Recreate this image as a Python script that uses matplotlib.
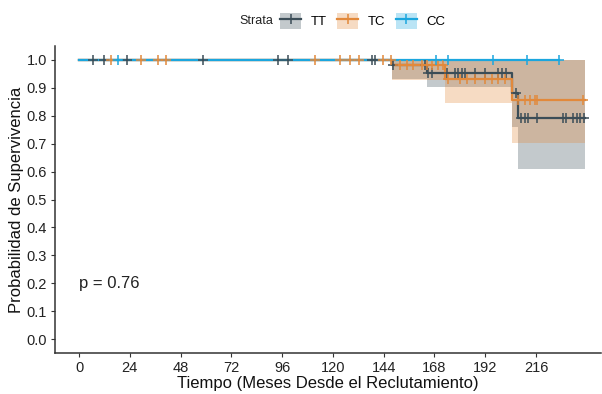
import numpy as np
import matplotlib
matplotlib.use("Agg")
import matplotlib.pyplot as plt
from matplotlib.patches import Patch
from matplotlib.lines import Line2D

plt.rcParams["font.family"] = ["Liberation Sans", "DejaVu Sans"]

# Kaplan-Meier estimates per genotype (months, survival, 95% CI lower bound)
tt_time = [0, 148.0, 164.5, 204.6, 207.5, 239.0]
tt_surv = [1.0, 0.982, 0.952, 0.880, 0.792, 0.792]
tt_lower = [1.0, 0.930, 0.903, 0.760, 0.611, 0.611]
tt_upper = [1.0, 1.0, 1.0, 1.0, 1.0, 1.0]
tt_censor = [6.8, 12.0, 22.5, 58.4, 94.2, 98.6, 138.3, 139.9, 148.4,
             163.5, 165.0, 166.8, 173.8, 177.7, 179.0, 180.9, 182.4, 187.0,
             191.9, 198.0, 200.0, 202.0, 206.5, 209.0, 211.0, 212.0, 216.5,
             228.7, 230.0, 233.5, 235.3, 236.7, 238.6]

tc_time = [0, 148.0, 173.0, 204.5, 239.0]
tc_surv = [1.0, 0.982, 0.930, 0.857, 0.857]
tc_lower = [1.0, 0.928, 0.846, 0.704, 0.704]
tc_upper = [1.0, 1.0, 1.0, 1.0, 1.0]
tc_censor = [15.0, 29.3, 37.2, 41.1, 111.5, 123.3, 128.0, 132.5, 143.8, 147.3,
             151.7, 154.9, 158.0, 162.0, 164.3, 166.6, 169.8, 172.2,
             174.4, 180.0, 183.2, 187.1, 191.9, 195.0, 198.2, 201.3,
             207.5, 210.8, 213.2, 215.5, 216.5, 238.2]

cc_time = [0, 227.0]
cc_surv = [1.0, 1.0]
cc_lower = [1.0, 1.0]
cc_upper = [1.0, 1.0]
cc_censor = [18.6, 168.7, 174.2, 195.5, 211.6, 226.9]

strata = ["TT", "TC", "CC"]
colours = {"TT": "#3b4d57", "TC": "#e2893b", "CC": "#1ba6de"}
p_value = 0.76

x_ticks = [0, 24, 48, 72, 96, 120, 144, 168, 192, 216]
y_ticks = [0.0, 0.1, 0.2, 0.3, 0.4, 0.5, 0.6, 0.7, 0.8, 0.9, 1.0]

groups = {
    "TT": (tt_time, tt_surv, tt_lower, tt_upper, tt_censor),
    "TC": (tc_time, tc_surv, tc_lower, tc_upper, tc_censor),
    "CC": (cc_time, cc_surv, cc_lower, cc_upper, cc_censor),
}


def surv_at(times, surv, t):
    idx = np.searchsorted(times, t, side="right") - 1
    return np.asarray(surv)[idx]


fig = plt.figure(figsize=(6.02, 3.94), dpi=100)
ax = fig.add_axes([54.5 / 602, 41 / 394, 546.5 / 602, 307 / 394])

for name in strata:
    t, s, lo, hi, _ = groups[name]
    ax.fill_between(t, lo, hi, step="post", color=colours[name],
                    alpha=0.3, linewidth=0)

for name in strata:
    t, s, lo, hi, _ = groups[name]
    ax.step(t, s, where="post", color=colours[name], lw=1.6)

for name in strata:
    t, s, lo, hi, cens = groups[name]
    ax.plot(cens, surv_at(t, s, cens), ls="none", marker="+",
            color=colours[name], ms=6.5, mew=1.1)

ax.text(0, 0.2, f"p = {p_value}", fontsize=12, ha="left", va="center",
        color="#222222")

ax.set_xlim(-11.6, 246.7)
ax.set_ylim(-0.05, 1.05)
ax.set_xticks(x_ticks)
ax.set_yticks(y_ticks)
ax.set_yticklabels([f"{v:.1f}" for v in y_ticks])
ax.tick_params(labelsize=10.5, colors="#333333", length=3, width=0.8,
               labelcolor="#222222", pad=2.5)
for side in ("top", "right"):
    ax.spines[side].set_visible(False)
for side in ("left", "bottom"):
    ax.spines[side].set_color("#333333")
    ax.spines[side].set_linewidth(1.1)

ax.set_xlabel("Tiempo (Meses Desde el Reclutamiento)", fontsize=12,
              labelpad=1, color="#111111")
ax.set_ylabel("Probabilidad de Supervivencia", fontsize=12, labelpad=2,
              color="#111111")

# legend keys: CI fill behind a line with a censor mark
handles = []
for name in strata:
    handles.append((Patch(facecolor=colours[name], alpha=0.3, edgecolor="none"),
                    Line2D([], [], color=colours[name], lw=1.6, marker="+",
                           ms=6.5, mew=1.1)))
fig.text(256 / 602, 1 - 21 / 394, "Strata", fontsize=9, ha="center",
         va="center", color="#222222")
fig.legend(handles, strata, loc="center left",
           bbox_to_anchor=(275 / 602, 1 - 21 / 394), ncol=3, frameon=False,
           fontsize=9.5, handlelength=1.6, handleheight=1.6, handletextpad=0.7,
           columnspacing=0.8, borderaxespad=0)

fig.savefig("out.png", dpi=100)
